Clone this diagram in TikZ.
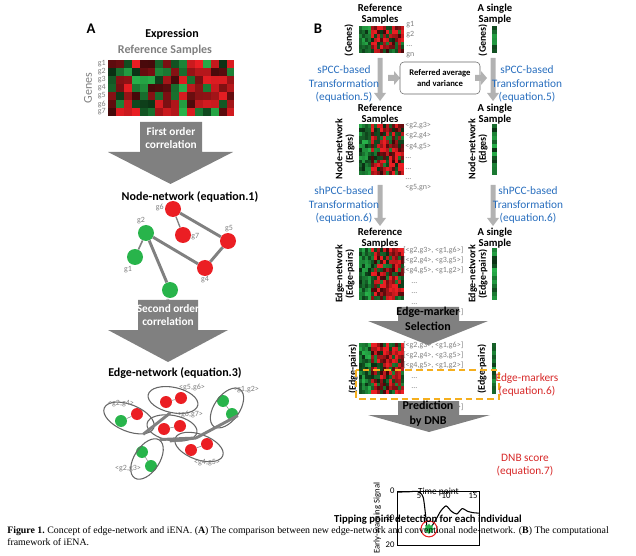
\documentclass[tikz,border=0pt]{standalone}
\usepackage{fontspec}
\setmainfont{Carlito}
\newfontfamily\capfont{Liberation Serif}
\usetikzlibrary{shapes.geometric}
\definecolor{mg}{RGB}{40,180,75}
\definecolor{mr}{RGB}{235,30,35}
\definecolor{bl}{RGB}{40,110,190}
\definecolor{rd}{RGB}{215,40,40}
\definecolor{org}{RGB}{245,175,30}
\newcommand\heat[7]{% x0 y0 ncol nrow cw ch greencols
\foreach \i in {1,...,#3}{\foreach \j in {1,...,#4}{%
 \pgfmathsetmacro\r{(\i<=#7) ? -abs(rand) : ((#7>0) ? rand+0.35 : rand)}%
 \pgfmathtruncatemacro\v{min(100,25+75*abs(\r))}%
 \ifdim\r pt>0pt \def\cc{mr}\else\def\cc{mg}\fi
 \fill[\cc!\v!black] ({#1+(\i-1)*#5},{#2+(\j-1)*#6}) rectangle ++(#5,#6);}}}
\newcommand\vArr[3]{\fill[black!30] ({#1-2.5},#2) -- ({#1+2.5},#2) -- ({#1+2.5},{#3-8}) -- ({#1+6},{#3-8}) -- (#1,#3) -- ({#1-6},{#3-8}) -- ({#1-2.5},{#3-8}) -- cycle;}
\newcommand\hArr[2]{\fill[black!30] (#1,{#2-3}) -- ({#1+6},{#2-3}) -- ({#1+6},{#2-7}) -- ({#1+12},#2) -- ({#1+6},{#2+7}) -- ({#1+6},{#2+3}) -- (#1,{#2+3}) -- cycle;}
\newcommand\bigArr[8]{% x1 x2 ytop ymid X1 X2 ytip text
\fill[black!50] (#1,#3) -- (#2,#3) -- (#2,#4) -- (#6,#4) -- ({(#5+#6)/2},#7) -- (#5,#4) -- (#1,#4) -- cycle;}
\tikzset{
 hd/.style={font=\fontsize{9}{10}\selectfont\bfseries, align=center, inner sep=0},
 gl/.style={font=\fontsize{6}{6}\selectfont, text=black!50, inner sep=0},
 bt/.style={font=\fontsize{8.5}{10}\selectfont, text=bl, align=center, inner sep=0},
 rt/.style={font=\fontsize{8.5}{10}\selectfont, text=rd, align=center, inner sep=0},
 rot/.style={rotate=90, font=\fontsize{7.5}{8}\selectfont\bfseries, align=center, inner sep=0},
 gn/.style={circle, fill=mg, minimum size=12, inner sep=0},
 rn/.style={circle, fill=mr, minimum size=12, inner sep=0},
 en/.style={circle, fill=mg, minimum size=9, inner sep=0},
 er/.style={circle, fill=mr, minimum size=9, inner sep=0},
 ed/.style={black!50, line width=2.2},
 grp/.style={ellipse, draw=black!60, thick, inner sep=1}
}
\begin{document}
\begin{tikzpicture}[x=0.75pt,y=-0.75pt]
\useasboundingbox (0,0) rectangle (636,556);
\pgfmathsetseed{7}
% ---------- A
\node[font=\fontsize{11}{12}\selectfont\bfseries] (A) at (91,29) {A};
\node[hd] (expr) at (172,34) {Expression};
\node[hd, text=black!50] (refA) at (165,50) {Reference Samples};
\heat{108}{60}{16}{7}{7.9}{8}{0}
\foreach \k in {1,...,7}{\node[gl,anchor=east] (ga\k) at (106,{60+(\k-0.5)*8}) {g\k};}
\node[rotate=90, font=\fontsize{9}{10}\selectfont, text=black!50] (genes) at (88,88) {Genes};
\bigArr{140}{202}{122}{152}{108}{233}{184}{}
\node[font=\fontsize{8.5}{10}\selectfont\bfseries, text=white, align=center] (fo) at (171,138) {First order\\correlation};
\node[hd] (nn) at (190,197) {Node-network (equation.1)};
\node[rn] (g6) at (173,209) {}; \node[gl,anchor=east] (l6) at (164,207) {g6};
\node[rn] (g7) at (183,235) {}; \node[gl,anchor=west] (l7) at (191,237) {g7};
\node[rn] (g5) at (228,241) {}; \node[gl,anchor=south] (l5) at (229,232) {g5};
\node[gn] (g2) at (146,233) {}; \node[gl,anchor=south] (l2) at (141,224) {g2};
\node[gn] (g1) at (135,257) {}; \node[gl,anchor=north] (l1) at (128,266) {g1};
\node[rn] (g4) at (205,268) {}; \node[gl,anchor=north] (l4) at (205,276) {g4};
\node[gn] (g3) at (170,290) {}; \node[gl,anchor=north] (l3) at (166,299) {g3};
\draw[black!50, line width=1] (g6) -- (g7);
\draw[ed] (g6) -- (g5) (g5) -- (g4) (g2) -- (g4) (g2) -- (g3);
\draw[black!50, line width=1.2] (g2) -- (g1);
\bigArr{138}{198}{300}{330}{108}{228}{362}{}
\node[font=\fontsize{8.5}{10}\selectfont\bfseries, text=white, align=center] (so) at (168,315) {Second order\\correlation};
\node[hd] (en) at (175,373) {Edge-network (equation.3)};
% edge-network groups
\node[en] (a1) at (121,421) {}; \node[er] (a2) at (137,414) {};
\node[grp, minimum width=40, minimum height=20, rotate=-22] (e24) at (129,418) {};
\node[er] (b1) at (166,402) {}; \node[er] (b2) at (181,398) {};
\node[grp, minimum width=38, minimum height=19, rotate=-12] (e56) at (173,400) {};
\node[en] (c1) at (223,401) {}; \node[en] (c2) at (232,414) {};
\node[grp, minimum width=34, minimum height=19, rotate=55] (e12) at (227,408) {};
\node[er] (d1) at (164,429) {}; \node[er] (d2) at (180,426) {};
\node[grp, minimum width=38, minimum height=19, rotate=-10] (e67) at (172,428) {};
\node[er] (f1) at (191,450) {}; \node[er] (f2) at (207,444) {};
\node[grp, minimum width=38, minimum height=19, rotate=-20] (e45) at (199,447) {};
\node[en] (h1) at (142,452) {}; \node[en] (h2) at (151,466) {};
\node[grp, minimum width=34, minimum height=19, rotate=57] (e23) at (147,459) {};
\foreach \p/\q in {a1/a2,b1/b2,c1/c2,d1/d2,f1/f2,h1/h2}{\draw[black!50,thin] (\p) -- (\q);}
\coordinate (hub) at (196,438);
\draw[ed] (e24.south east) -- (e56.south);
\draw[ed] (e67.south) -- (hub) (e23.east) -- (hub) (e12.south) -- (hub);
\node[gl] (t24) at (121,404) {<g2,g4>};
\node[gl] (t56) at (192,387) {<g5,g6>};
\node[gl] (t12) at (246,390) {<g1,g2>};
\node[gl] (t67) at (190,414) {<g6,g7>};
\node[gl] (t45) at (207,463) {<g4,g5>};
\node[gl] (t23) at (128,469) {<g2,g3>};
% ---------- B
\node[font=\fontsize{11}{12}\selectfont\bfseries] (B) at (318,29) {B};
\node[hd, font=\fontsize{8}{8}\selectfont\bfseries] (r1) at (380,14) {Reference\\Samples};
\heat{359}{26}{15}{7}{3}{3.9}{4}
\node[gl,anchor=west, align=left, font=\fontsize{6}{7.5}\selectfont] (gl1) at (406,40) {g1\\g2\\...\\gn};
\node[rot] (gen1) at (349,40) {(Genes)};
\node[hd, font=\fontsize{8}{8}\selectfont\bfseries] (s1) at (495,14) {A single\\Sample};
\heat{492}{26}{1}{7}{5}{3.9}{1}
\node[rot] (gen2) at (483,40) {(Genes)};
\vArr{380}{58}{101}
\vArr{493}{58}{101}
\node[bt] (sp1) at (344,84) {sPCC-based\\Transformation\\(equation.5)};
\node[bt] (sp2) at (527,84) {sPCC-based\\Transformation\\(equation.5)};
\hArr{388}{78}
\node[draw=black!60, rounded corners=3, font=\fontsize{6.5}{8}\selectfont\bfseries, align=center, minimum width=60, minimum height=24] (ref) at (440,78) {Referred average\\and variance};
\hArr{475}{78}
% row 2
\node[hd, font=\fontsize{8}{8}\selectfont\bfseries] (r2) at (380,114) {Reference\\Samples};
\heat{359}{124}{15}{13}{3}{3.95}{4}
\node[gl,anchor=north west, align=left, font=\fontsize{6}{7.8}\selectfont] (el2) at (405,122) {<g2,g3>\\<g2,g4>\\<g4,g5>\\...\\...\\...\\<g5,gn>};
\node[rot] (nn1) at (345,149) {Node-network\\(Edges)};
\node[hd, font=\fontsize{8}{8}\selectfont\bfseries] (s2) at (495,114) {A single\\Sample};
\heat{492}{124}{1}{13}{5}{3.95}{1}
\node[rot] (nn2) at (478,149) {Node-network\\(Edges)};
\vArr{380}{185}{226}
\vArr{493}{185}{226}
\node[bt] (sh1) at (344,205) {shPCC-based\\Transformation\\(equation.6)};
\node[bt] (sh2) at (528,205) {shPCC-based\\Transformation\\(equation.6)};
% row 3
\node[hd, font=\fontsize{8}{8}\selectfont\bfseries] (r3) at (380,238) {Reference\\Samples};
\heat{359}{248}{15}{13}{3}{4}{4}
\node[gl,anchor=north west, align=left, font=\fontsize{6}{7.8}\selectfont] (el3) at (403,246) {{[}<g2,g3>, <g1,g6>{]}\\{[}<g2,g4>, <g3,g5>{]}\\{[}<g4,g5>, <g1,g2>{]}\\\quad...\\\quad...\\\quad...\\{[}<g5,g6>, <g1,gn>{]}};
\node[rot] (enw1) at (345,274) {Edge-network\\(Edge-pairs)};
\node[hd, font=\fontsize{8}{8}\selectfont\bfseries] (s3) at (495,238) {A single\\Sample};
\heat{492}{248}{1}{13}{5}{4}{1}
\node[rot] (enw2) at (478,274) {Edge-network\\(Edge-pairs)};
% edge-marker
\bigArr{398}{459}{307}{321}{368}{488}{345}{}
\node[font=\fontsize{9}{11}\selectfont\bfseries, align=center] (ems) at (428,319) {Edge-marker\\Selection};
\heat{359}{343}{15}{13}{3}{3.95}{4}
\node[gl,anchor=north west, align=left, font=\fontsize{6}{7.8}\selectfont] (el4) at (403,341) {{[}<g2,g3>, <g1,g6>{]}\\{[}<g2,g4>, <g3,g5>{]}\\{[}<g4,g5>, <g1,g2>{]}\\\quad...\\\quad...\\\quad...\\{[}<g5,g6>, <g1,gn>{]}};
\node[rot] (ep1) at (353,369) {(Edge-pairs)};
\heat{492}{343}{1}{13}{4}{3.95}{1}
\node[rot] (ep2) at (482,369) {(Edge-pairs)};
\draw[org, line width=1.3, dash pattern=on 5pt off 3pt] (356,370) rectangle (499,399);
\node[rt] (emk) at (527,385) {Edge-markers\\(equation.6)};
% prediction
\bigArr{398}{459}{401}{415}{368}{490}{432}{}
\node[font=\fontsize{9}{11}\selectfont\bfseries, align=center] (pdnb) at (428,414) {Prediction\\by DNB};
% plot
\begin{scope}[shift={(392,491)}, x=4.05pt, y=-2.03pt]
\draw[thin] (1,0) rectangle (16.2,20);
\foreach \t in {5,10,15}{\draw[thin] (\t,0) -- (\t,0.8); \node[font=\fontsize{6.5}{7}\selectfont, inner sep=1, anchor=north] (xt\t) at (\t,0) {\t};}
\foreach \v in {0,10,20}{\draw[thin] (1,\v) -- (1.3,\v); \node[font=\fontsize{6.5}{7}\selectfont, inner sep=2, anchor=east] (yt\v) at (1,\v) {\v};}
\draw[thick] plot[smooth, tension=0.4] coordinates {(1,0.4) (3,0.3) (4.8,0.2) (5.8,2.5) (6.5,13.5) (7,14) (8,11) (9,7.5) (10,5.5) (11,7.5) (12,8.5) (13,6.5) (14,7.5) (15,8) (16.2,8.2)};
\node[circle, draw=mr, thick, minimum size=12, inner sep=0] (pk) at (6.85,14) {};
\node[star, star points=8, fill=mg, minimum size=8, inner sep=0] (pks) at (6.85,14) {};
\node[font=\fontsize{7}{8}\selectfont, anchor=north] (tp) at (8.6,-3) {Time point};
\node[rotate=90, font=\fontsize{6.5}{7}\selectfont] (ews) at (-2.7,10) {Early-warning Signal};
\end{scope}
\node[font=\fontsize{8}{9}\selectfont\bfseries] (tip) at (428,520) {Tipping point detection for each individual};
\node[rt] (dnb) at (525,465) {DNB score\\(equation.7)};
% caption
\node[font=\capfont\fontsize{7.4}{9}\selectfont, anchor=north west, align=left, inner sep=0] (cap) at (7,526) {\textbf{Figure 1.}\ Concept of edge-network and iENA. (\textbf{A}) The comparison between new edge-network and conventional node-network. (\textbf{B}) The computational\\framework of iENA.};
\end{tikzpicture}
\end{document}
